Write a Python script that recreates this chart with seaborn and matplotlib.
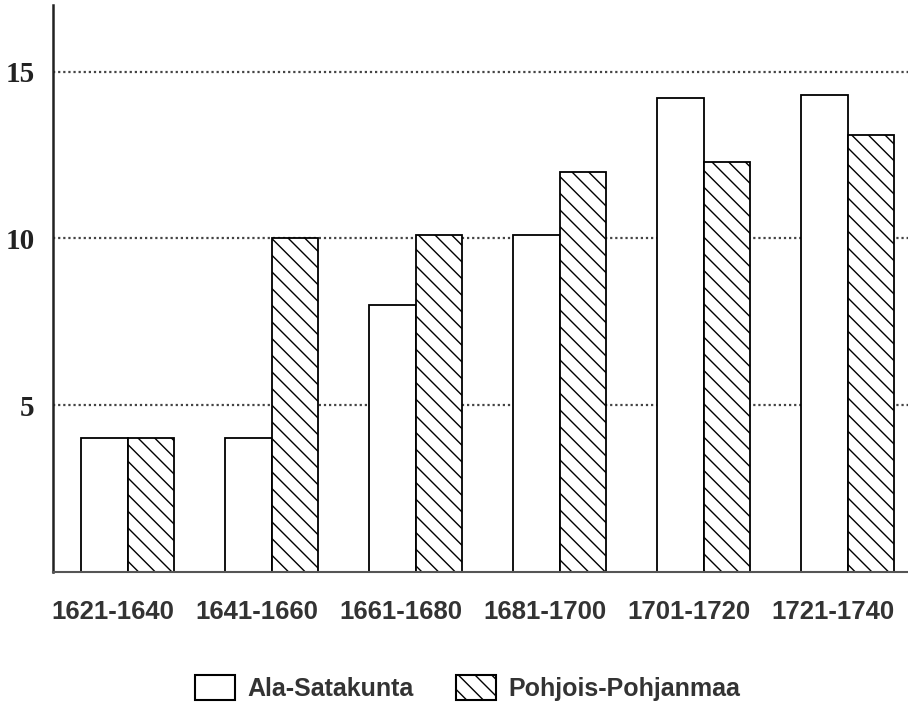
import pandas as pd
import numpy as np
import matplotlib
matplotlib.use("Agg")
import matplotlib.pyplot as plt
from matplotlib.patches import Patch
import seaborn as sns

periods = ["1621-1640", "1641-1660", "1661-1680", "1681-1700", "1701-1720", "1721-1740"]
ala_satakunta = [4.0, 4.0, 8.0, 10.1, 14.2, 14.3]
pohjois_pohjanmaa = [4.0, 10.0, 10.1, 12.0, 12.3, 13.1]
regions = ["Ala-Satakunta", "Pohjois-Pohjanmaa"]
yticks = [5, 10, 15]

df = pd.DataFrame({
    "period": periods * 2,
    "value": ala_satakunta + pohjois_pohjanmaa,
    "region": [regions[0]] * 6 + [regions[1]] * 6,
})

sns.set_style("white")
plt.rcParams["hatch.linewidth"] = 1.0

fig = plt.figure(figsize=(9.08, 7.12), dpi=100)
ax = fig.add_axes([0.058, 0.197, 0.942, 0.796])

sns.barplot(data=df, x="period", y="value", hue="region", ax=ax,
            palette=["white", "white"], edgecolor="black", linewidth=1.3,
            width=0.64, gap=0, legend=False)

for bar in ax.containers[1]:
    bar.set_hatch("\\\\")

ax.set_ylim(0, 17)
ax.set_xlim(-0.52, 5.42)
ax.set_yticks(yticks)
ax.set_yticklabels([str(v) for v in yticks], fontfamily="Liberation Serif",
                   fontweight="bold", fontsize=21, color="#222222")
# labels in the original sit a little left of the bar pairs
ax.set_xticks(np.arange(len(periods)) - 0.1)
ax.set_xticklabels(periods, fontfamily="Liberation Sans", fontweight="bold", fontsize=18.5,
                   color="#333333")
ax.tick_params(axis="y", length=5, width=1.5, color="#888888", pad=8)
ax.tick_params(axis="x", length=0, pad=20)
ax.set_xlabel("")
ax.set_ylabel("")
ax.yaxis.grid(True, linestyle=(0, (1, 1.3)), color="#444444", linewidth=1.6)
ax.set_axisbelow(True)

sns.despine(ax=ax, top=True, right=True)
ax.spines["left"].set_linewidth(1.8)
ax.spines["left"].set_color("#222222")
ax.spines["bottom"].set_linewidth(1.5)
ax.spines["bottom"].set_color("#555555")

handles = [
    Patch(facecolor="white", edgecolor="black", linewidth=1.5, label=regions[0]),
    Patch(facecolor="white", edgecolor="black", linewidth=1.5, hatch="\\\\", label=regions[1]),
]
fig.legend(handles=handles, loc="center", bbox_to_anchor=(0.515, 0.034), ncol=2,
           frameon=False, handlelength=1.6, handleheight=1.16, handletextpad=0.5,
           columnspacing=1.7,
           prop={"family": "Liberation Sans", "weight": "bold", "size": 18})
for t in fig.legends[0].get_texts():
    t.set_color("#333333")

fig.savefig("out.png", dpi=100)
